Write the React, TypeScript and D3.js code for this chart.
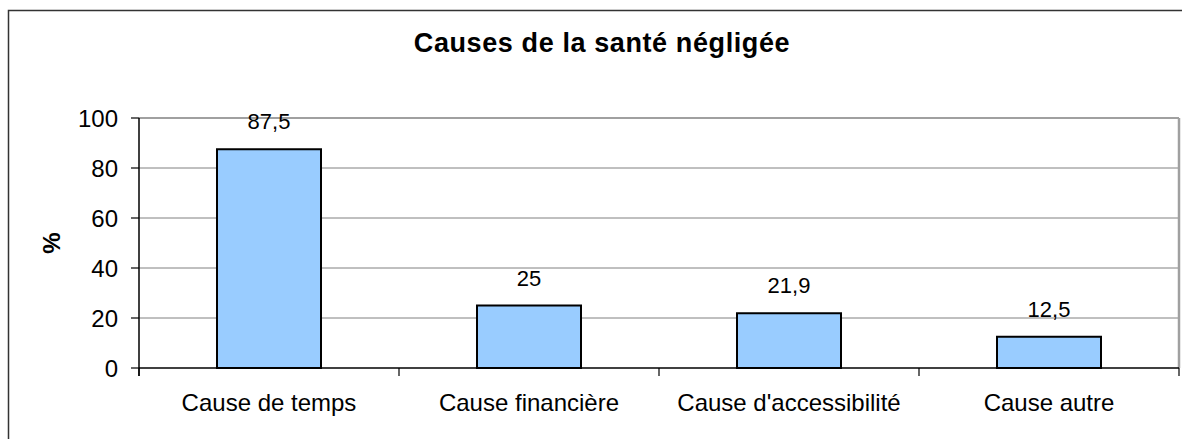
import React from "react";
import * as d3 from "d3";

const categories = ["Cause de temps", "Cause financière", "Cause d'accessibilité", "Cause autre"];
const values = [87.5, 25, 21.9, 12.5];
const yTicks = [0, 20, 40, 60, 80, 100];
const title = "Causes de la santé négligée";
const yTitle = "%";

const W = 1182;
const H = 439;
const left = 139;
const right = 1179;
const top = 118;
const bottom = 368;

const frLocale = d3.formatLocale({ decimal: ",", thousands: " ", grouping: [3], currency: ["", " €"] });
const fmt = frLocale.format(".1~f");

export default function App() {
  const x = d3.scaleBand<string>().domain(categories).range([left, right]).paddingInner(0.6).paddingOuter(0.3);
  const y = d3.scaleLinear().domain([0, 100]).range([bottom, top]);
  const step = x.step();
  const boundaries = d3.range(categories.length + 1).map((i) => left + i * step);
  const font = "Arial, 'Liberation Sans', sans-serif";

  return (
    <svg width={W} height={H} style={{ position: "absolute", left: 0, top: 0, background: "#fff" }} fontFamily={font}>
      <rect x={8.5} y={10.5} width={1200} height={450} fill="#fff" stroke="#333" strokeWidth={1.5} />
      <text x={602} y={52} textAnchor="middle" fontSize={27} fontWeight="bold" fill="#000" letterSpacing={0.6}>
        {title}
      </text>
      {/* gridlines */}
      {yTicks.filter((t) => t > 0 && t < 100).map((t) => (
        <line key={t} x1={left} x2={right} y1={y(t)} y2={y(t)} stroke="#808080" strokeWidth={1} />
      ))}
      {/* plot border top/right */}
      <line x1={left} x2={right} y1={y(100)} y2={y(100)} stroke="#a0a0a0" strokeWidth={2} />
      <line x1={right} x2={right} y1={y(100)} y2={y(0)} stroke="#a0a0a0" strokeWidth={2.5} />
      {/* bars */}
      {values.map((v, i) => (
        <rect
          key={i}
          x={x(categories[i])!}
          y={y(v)}
          width={x.bandwidth()}
          height={y(0) - y(v)}
          fill="#99CCFF"
          stroke="#000"
          strokeWidth={2}
        />
      ))}
      {/* data labels */}
      {values.map((v, i) => (
        <text key={i} x={x(categories[i])! + x.bandwidth() / 2} y={y(v) - 20} textAnchor="middle" fontSize={22} fill="#000">
          {fmt(v)}
        </text>
      ))}
      {/* axes */}
      <line x1={left} x2={left} y1={y(100)} y2={bottom + 8} stroke="#000" strokeWidth={1.5} />
      <line x1={left} x2={right} y1={bottom} y2={bottom} stroke="#000" strokeWidth={1.5} />
      {yTicks.map((t) => (
        <g key={t}>
          <line x1={left - 8} x2={left} y1={y(t)} y2={y(t)} stroke="#000" strokeWidth={1.2} />
          <text x={118} y={y(t)} dy="0.36em" textAnchor="end" fontSize={24} fill="#000">
            {t}
          </text>
        </g>
      ))}
      {boundaries.map((bx, i) => (
        <line key={i} x1={bx} x2={bx} y1={bottom} y2={bottom + 8} stroke="#000" strokeWidth={1.2} />
      ))}
      {categories.map((c) => (
        <text key={c} x={x(c)! + x.bandwidth() / 2} y={411} textAnchor="middle" fontSize={24} fill="#000">
          {c}
        </text>
      ))}
      <text transform={`translate(60,${(top + bottom) / 2}) rotate(-90)`} textAnchor="middle" fontSize={24} fontWeight="bold" fill="#000">
        {yTitle}
      </text>
    </svg>
  );
}
